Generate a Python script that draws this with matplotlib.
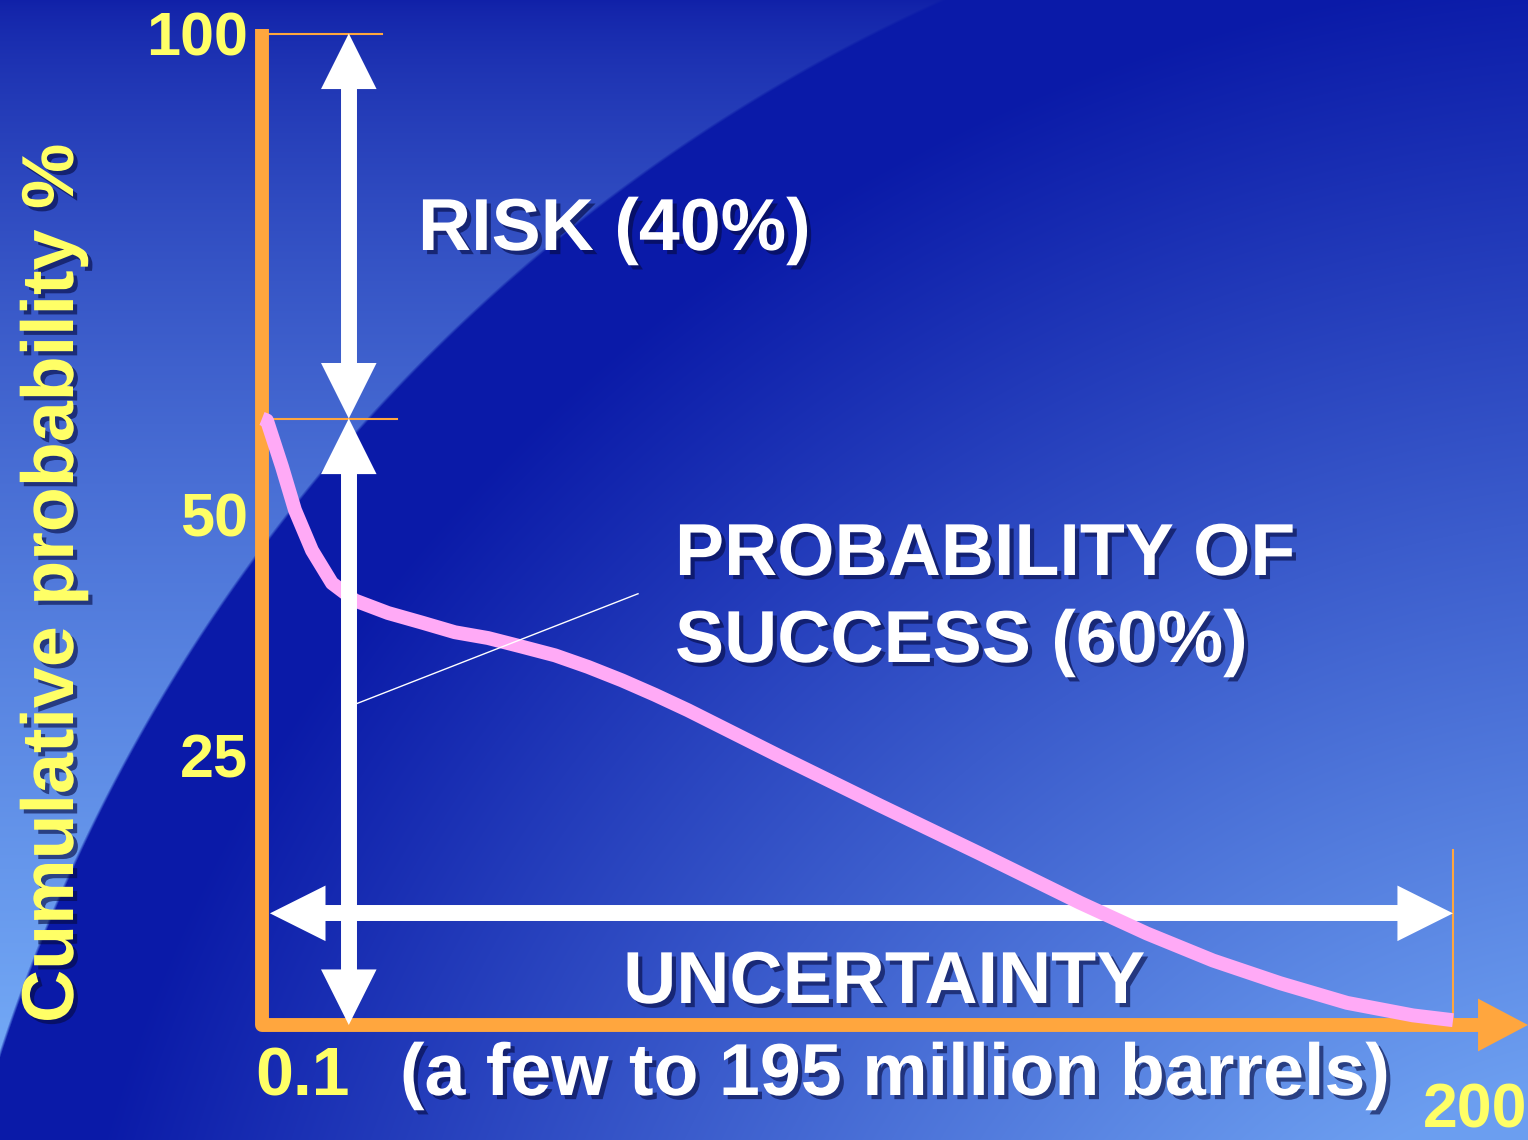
import matplotlib
matplotlib.use("Agg")
import matplotlib.pyplot as plt
import matplotlib.patheffects as pe
from matplotlib.patches import FancyArrowPatch
from matplotlib.ticker import NullLocator
import numpy as np

plt.rcParams["font.family"] = ["Liberation Sans", "DejaVu Sans"]
plt.rcParams["font.weight"] = "bold"

# cumulative probability curve (x = million barrels, log axis)
volume = [0.1, 0.1032, 0.1136, 0.1234, 0.1376, 0.1563, 0.181, 0.2235, 0.2777,
          0.3426, 0.4231, 0.5255, 0.649, 0.8009, 0.9949, 1.228, 1.516, 2.727,
          5.163, 9.773, 18.5, 28.38, 43.23, 66.3, 101.7, 154.9, 200]
cum_prob = [60.0, 59.8, 55.0, 50.5, 46.3, 42.9, 41.1, 39.8, 38.8,
            37.8, 37.2, 36.3, 35.4, 34.2, 32.8, 31.3, 29.7, 24.9,
            19.8, 14.8, 9.7, 6.5, 3.7, 1.35, -0.7, -2.0, -2.5]

y_ticks = [25, 50, 100]
x_labels = ["0.1", "200"]
x_min, x_max = 0.1, 200
success_pct = 60
risk_label = "RISK (40%)"
success_label = ["PROBABILITY OF", "SUCCESS (60%)"]

ORANGE = "#ffa63e"
PINK = "#ffaaf6"
YELLOW = "#ffff66"

W, H = 1528, 1140
fig = plt.figure(figsize=(W / 100, H / 100), dpi=100)

# background: blue gradient with a lighter arc in the upper left
yy, xx = np.mgrid[0:H, 0:W].astype(float)
dist = np.hypot(xx - 1664, yy - 1594)
r = 1750
dark = np.array([10, 26, 168]) / 255
light = np.array([108, 158, 240]) / 255
t = np.clip((r - dist - 120) / 1100, 0, 1)[..., None]
inner = dark + (light - dark) * t
top = np.array([16, 32, 168]) / 255
bottom = np.array([120, 176, 250]) / 255
outer = top + (bottom - top) * ((yy / H) ** 0.7)[..., None]
m = np.clip((dist - r) / 3 + 0.5, 0, 1)[..., None]
bg = inner * (1 - m) + outer * m

bg_ax = fig.add_axes([0, 0, 1, 1])
bg_ax.imshow(bg, extent=(0, W, H, 0), aspect="auto")
bg_ax.axis("off")


def fx(x):
    return x / W


def fy(y):
    return 1 - y / H


ax = fig.add_axes([262 / W, (H - 1025) / H, (1453 - 262) / W, (1025 - 33.5) / H])
ax.patch.set_visible(False)
for sp in ax.spines.values():
    sp.set_visible(False)
ax.set_xscale("log")
ax.set_xlim(x_min, x_max)
ax.set_ylim(-3, 100)
ax.set_xticks([])
ax.xaxis.set_minor_locator(NullLocator())
ax.set_yticks(y_ticks)
ax.set_yticklabels([str(v) for v in y_ticks])
ax.tick_params(axis="y", length=0, pad=10, labelsize=44, labelcolor=YELLOW)

# orange axes with arrow
ax.plot([0, 0, 1.02], [1.005, 0, 0], transform=ax.transAxes, color=ORANGE, lw=10,
        solid_joinstyle="round", solid_capstyle="butt", clip_on=False, zorder=2)
ax.add_patch(FancyArrowPatch((1.0, 0), (1.063, 0), transform=ax.transAxes,
                             arrowstyle="simple,head_length=36,head_width=38,tail_width=10",
                             mutation_scale=1, color=ORANGE, lw=0, shrinkA=0, shrinkB=0,
                             clip_on=False, zorder=2))

# thin orange guide lines
ax.plot([x_min, 0.215], [100, 100], color=ORANGE, lw=1.5, zorder=2, clip_on=False)
ax.plot([x_min, 0.237], [success_pct, success_pct], color=ORANGE, lw=1.5, zorder=2)
ax.plot([x_max, x_max], [15.2, -3], color=ORANGE, lw=1.5, zorder=2, clip_on=False)

to_disp = ax.transData.transform
to_data = ax.transData.inverted().transform


def double_arrow(p0, p1, z):
    # one straight shaft plus two heads, so the shaft has no seam
    a, b = to_disp(p0), to_disp(p1)
    u = (b - a) / np.hypot(*(b - a))
    s0, s1 = to_data(a + u * 45), to_data(b - u * 45)
    ax.plot([s0[0], s1[0]], [s0[1], s1[1]], color="white", lw=11.5,
            solid_capstyle="butt", zorder=z, clip_on=False)
    for tip, base in ((p0, to_data(a + u * 62)), (p1, to_data(b - u * 62))):
        ax.add_patch(FancyArrowPatch(tuple(base), tip,
                                     arrowstyle="simple,head_length=40,head_width=40,tail_width=8",
                                     mutation_scale=1, color="white", lw=0, shrinkA=0, shrinkB=0,
                                     clip_on=False, zorder=z))


# uncertainty arrow (under the curve)
double_arrow((0.1052, 8.6), (x_max, 8.6), 3)

ax.plot(volume, cum_prob, color=PINK, lw=10, solid_capstyle="butt",
        solid_joinstyle="round", zorder=4, clip_on=False)

# risk / success arrows
arrow_x = 0.174
double_arrow((arrow_x, 100), (arrow_x, success_pct), 5)
double_arrow((arrow_x, success_pct), (arrow_x, -3), 5)

# pointer from the label to the success arrow
ax.plot([0.1834, 1.102], [30.4, 41.8], color="white", lw=1, zorder=5)

# x end labels
ax.annotate(x_labels[0], xy=(x_min, 0), xycoords=("data", "axes fraction"),
            xytext=(-5, -50.4), textcoords="offset points", ha="left", va="baseline",
            fontsize=49, color=YELLOW, annotation_clip=False)
ax.annotate(x_labels[1], xy=(x_max, 0), xycoords=("data", "axes fraction"),
            xytext=(-21.6, -74), textcoords="offset points", ha="left", va="baseline",
            fontsize=45, color=YELLOW, annotation_clip=False)

shadow = [pe.withSimplePatchShadow(offset=(3, -3), shadow_rgbFace="#050a40", alpha=0.6)]
txt = dict(color="white", fontsize=53, path_effects=shadow)
fig.text(fx(418), fy(250), risk_label, ha="left", va="baseline", **txt)
fig.text(fx(675), fy(575), success_label[0], ha="left", va="baseline", **txt)
fig.text(fx(675), fy(662), success_label[1], ha="left", va="baseline", **txt)
fig.text(fx(884), fy(1003), "UNCERTAINTY", ha="center", va="baseline", **txt)
fig.text(fx(895), fy(1095), "(a few to 195 million barrels)", ha="center", va="baseline", **txt)
fig.text(fx(73), fy(583), "Cumulative probability %", rotation=90, rotation_mode="anchor",
         ha="center", va="baseline", color=YELLOW, fontsize=53, path_effects=shadow)

fig.savefig("out.png", dpi=100)
plt.close(fig)
